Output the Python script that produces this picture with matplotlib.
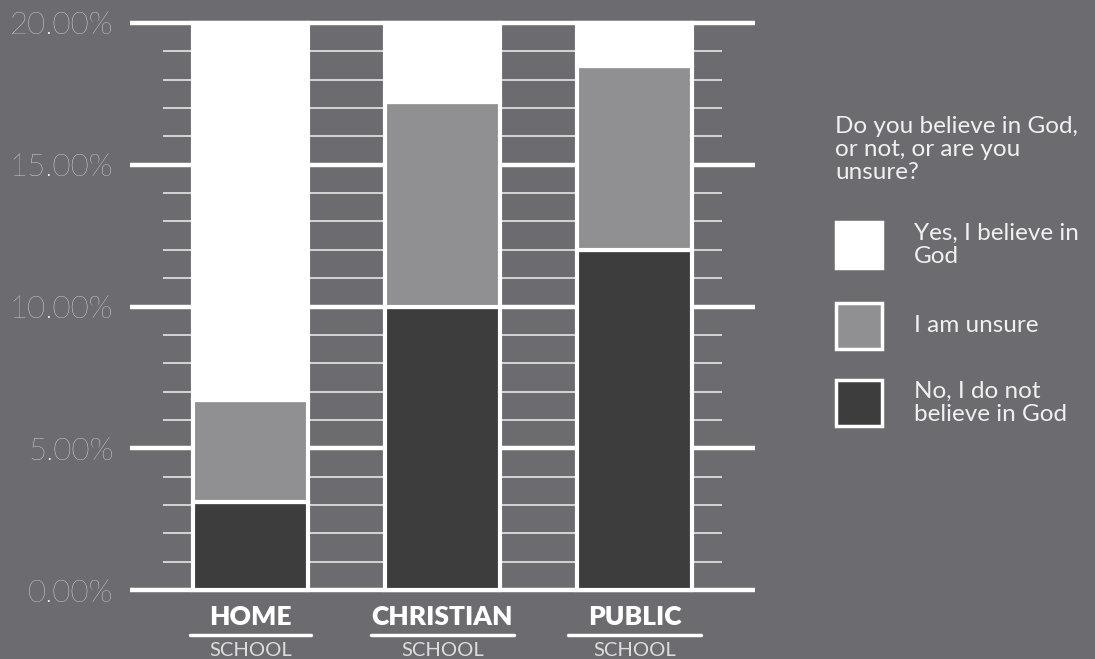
import matplotlib.pyplot as plt
from matplotlib.transforms import blended_transform_factory
from matplotlib.patches import Rectangle

# data (percent of respondents)
schools = ["HOME", "CHRISTIAN", "PUBLIC"]
no_god = [3.1, 10.0, 12.0]
unsure = [3.6, 7.2, 6.5]
yes_god = [13.3, 2.8, 1.5]

series_labels = ["Yes, I believe in\nGod", "I am unsure", "No, I do not\nbelieve in God"]
legend_title = "Do you believe in God,\nor not, or are you\nunsure?"
y_ticks = [0, 5, 10, 15, 20]
y_tick_labels = ["0.00%", "5.00%", "10.00%", "15.00%", "20.00%"]

BG = "#6b6b70"
WHITE = "#ffffff"
GREY = "#909093"
DARK = "#3d3d3d"
MINOR = "#dcdcdc"
TXT = "#f0f0f0"

plt.rcParams["font.family"] = ["Lato", "DejaVu Sans"]

fig = plt.figure(figsize=(10.95, 6.59), dpi=100, facecolor=BG)
W, H = 1095, 659
# axes placed in pixels: x 130..755, y 23 (20%) .. 590 (0%)
ax = fig.add_axes([130 / W, 1 - 590 / H, 625 / W, 567 / H])
ax.set_facecolor(BG)
ax.set_xlim(-0.628, 2.628)
ax.set_ylim(0, 20)
for s in ax.spines.values():
    s.set_visible(False)

x = list(range(len(schools)))

# grid: thin minor lines every 1%, heavy major lines every 5%
minor = [v for v in range(0, 21) if v % 5]
ax.hlines(minor, -0.456, 2.456, color=MINOR, lw=1.3, zorder=1)
ax.hlines(y_ticks, -0.628, 2.628, color=WHITE, lw=3.2, zorder=1, clip_on=False)

bw = 0.6
ax.bar(x, no_god, bw, color=DARK, edgecolor=WHITE, lw=3, zorder=3, clip_on=False)
bottom2 = no_god
ax.bar(x, unsure, bw, bottom=bottom2, color=GREY, edgecolor=WHITE, lw=3, zorder=3, clip_on=False)
bottom3 = [a + b for a, b in zip(no_god, unsure)]
ax.bar(x, yes_god, bw, bottom=bottom3, color=WHITE, edgecolor=WHITE, lw=3, zorder=3, clip_on=False)

ax.set_yticks(y_ticks)
ax.set_yticklabels(y_tick_labels, color=WHITE, fontsize=22.5, fontweight="light")
ax.tick_params(axis="y", length=0, pad=12)
ax.set_xticks([])

# category labels under the bars
tr = blended_transform_factory(ax.transData, fig.transFigure)
underline_w = [0.63, 0.745, 0.69]
for xi, name, uw in zip(x, schools, underline_w):
    ax.text(xi, 1 - 617 / H, name, transform=tr, ha="center", va="center",
            color=WHITE, fontsize=19, fontweight="heavy")
    ax.plot([xi - uw / 2, xi + uw / 2], [1 - 635 / H] * 2, transform=tr,
            color=WHITE, lw=2.5, solid_capstyle="round", clip_on=False)
    ax.text(xi, 1 - 650 / H, "SCHOOL", transform=tr, ha="center", va="center",
            color="#dddddd", fontsize=14.5)

# legend drawn by hand
fig.text(835 / W, 1 - 116 / H, legend_title, ha="left", va="top", color=TXT,
         fontsize=17.5, linespacing=1.12)
swatches = [WHITE, GREY, DARK]
sw_top = [222, 303, 380]
for col, top, lab in zip(swatches, sw_top, series_labels):
    fig.patches.append(Rectangle((836 / W, 1 - (top + 46) / H), 46 / W, 46 / H,
                                 transform=fig.transFigure, facecolor=col,
                                 edgecolor=WHITE, lw=2.5))
    fig.text(914 / W, 1 - (top + 23) / H, lab, ha="left", va="center", color=TXT,
             fontsize=17.5, linespacing=1.12)

fig.savefig("out.png", dpi=100, facecolor=BG)
